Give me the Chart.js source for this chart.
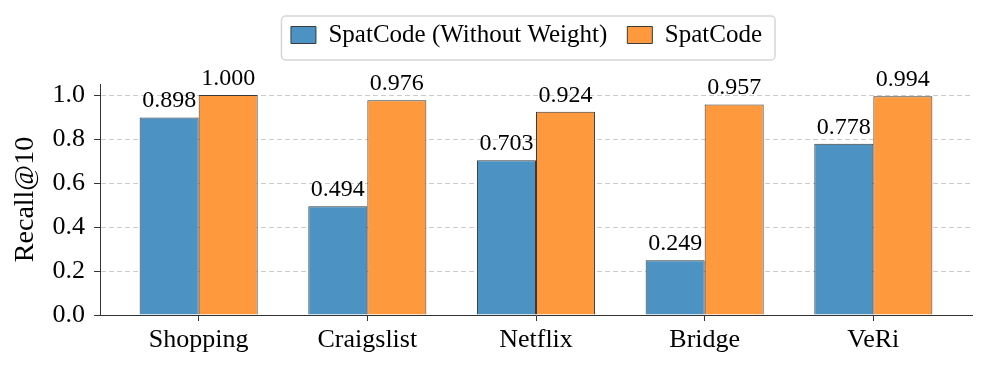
<!DOCTYPE html>
<html><head><meta charset="utf-8">
<script src="https://cdn.jsdelivr.net/npm/chart.js@4/dist/chart.umd.min.js"></script>
<style>html,body{margin:0;padding:0;background:#fff}#wrap{width:987px;height:368px}</style>
</head><body><div id="wrap"><canvas id="c" width="987" height="368"></canvas></div>
<script>
const categories = ['Shopping', 'Craigslist', 'Netflix', 'Bridge', 'VeRi'];
const seriesNames = ['SpatCode (Without Weight)', 'SpatCode'];
const withoutWeight = [0.898, 0.494, 0.703, 0.249, 0.778];
const spatCode = [1.000, 0.976, 0.924, 0.957, 0.994];
const yTicks = [0.0, 0.2, 0.4, 0.6, 0.8, 1.0];

const FAMILY = "'Liberation Serif', 'Times New Roman', serif";
const LEGEND_SHIFT = 40.5;
const LEGEND_EXTRA = 26.5;

const legendTweak = {
  id: 'legendTweak',
  beforeLayout(chart) {
    const lg = chart.legend;
    if (lg && !lg._patched) {
      const orig = lg.fit;
      lg.fit = function () { orig.call(this); this.height += LEGEND_EXTRA; };
      lg._patched = true;
    }
  },
  afterLayout(chart) {
    const lg = chart.legend;
    if (lg) { lg.left += LEGEND_SHIFT; lg.right += LEGEND_SHIFT; }
  },
  afterDraw(chart) {
    const lg = chart.legend;
    if (!lg || !lg.legendHitBoxes || !lg.legendHitBoxes.length) return;
    const hb = lg.legendHitBoxes;
    let l = Infinity, r = -Infinity, cy = 0;
    hb.forEach(h => { l = Math.min(l, h.left); r = Math.max(r, h.left + h.width); cy = h.top + h.height / 2; });
    const x0 = l - 9.5, x1 = r + 13, y0 = cy - 19, y1 = cy + 25;
    const ctx = chart.ctx;
    ctx.save();
    ctx.strokeStyle = '#d6d6d6';
    ctx.lineWidth = 1.5;
    ctx.beginPath();
    if (ctx.roundRect) ctx.roundRect(x0, y0, x1 - x0, y1 - y0, 4); else ctx.rect(x0, y0, x1 - x0, y1 - y0);
    ctx.stroke();
    ctx.restore();
  }
};

const valueLabels = {
  id: 'valueLabels',
  afterDatasetsDraw(chart) {
    const ctx = chart.ctx;
    ctx.save();
    ctx.font = "24px " + FAMILY;
    ctx.fillStyle = '#000';
    ctx.textAlign = 'center';
    ctx.textBaseline = 'alphabetic';
    chart.data.datasets.forEach((ds, di) => {
      const meta = chart.getDatasetMeta(di);
      meta.data.forEach((el, i) => {
        ctx.fillText(ds.data[i].y.toFixed(3), el.x, el.y - 10);
      });
    });
    ctx.restore();
  }
};

new Chart(document.getElementById('c'), {
  type: 'bar',
  data: {
    datasets: [
      {
        label: seriesNames[0],
        data: categories.map((c, i) => ({ x: i, y: withoutWeight[i] })),
        backgroundColor: '#4C92C3',
        borderColor: '#3a3a3a',
        borderWidth: 1
      },
      {
        label: seriesNames[1],
        data: categories.map((c, i) => ({ x: i, y: spatCode[i] })),
        backgroundColor: '#FF993E',
        borderColor: '#3a3a3a',
        borderWidth: 1
      }
    ]
  },
  options: {
    responsive: false,
    animation: false,
    categoryPercentage: 0.7,
    barPercentage: 1.0,
    layout: { padding: { top: 2.5, right: 15, left: 0, bottom: 0 } },
    plugins: {
      legend: {
        position: 'top',
        align: 'center',
        labels: {
          font: { family: FAMILY, size: 25 },
          color: '#000',
          boxWidth: 25,
          boxHeight: 17,
          padding: 20
        }
      },
      tooltip: { enabled: false }
    },
    scales: {
      x: {
        type: 'linear',
        offset: false,
        min: -0.585,
        max: 4.585,
        afterBuildTicks: s => { s.ticks = categories.map((c, i) => ({ value: i })); },
        afterFit: s => { s.height = 53; },
        ticks: {
          callback: (v, i) => categories[i],
          font: { family: FAMILY, size: 26 },
          color: '#000',
          padding: 4,
          autoSkip: false,
          maxRotation: 0
        },
        grid: { offset: false, drawOnChartArea: false, drawTicks: true, tickLength: 6, tickColor: '#333', tickWidth: 1 },
        border: { color: '#333', width: 1 }
      },
      y: {
        min: 0,
        max: 1.05,
        afterBuildTicks: s => { s.ticks = yTicks.map(v => ({ value: v })); },
        afterFit: s => { s.width = 100; },
        ticks: {
          callback: v => Number(v).toFixed(1),
          font: { family: FAMILY, size: 26 },
          color: '#000',
          padding: 9
        },
        grid: {
          color: c => (c.tick && c.tick.value === 0) ? 'rgba(0,0,0,0)' : '#cccccc',
          lineWidth: 1,
          tickLength: 6,
          tickColor: '#333',
          tickWidth: 1,
          tickBorderDash: []
        },
        border: { color: '#333', width: 1, dash: [5, 3] },
        title: {
          display: true,
          text: 'Recall@10',
          font: { family: FAMILY, size: 28 },
          color: '#000',
          padding: { top: 9, bottom: 0 }
        }
      }
    }
  },
  plugins: [legendTweak, valueLabels]
});
</script>
</body></html>
